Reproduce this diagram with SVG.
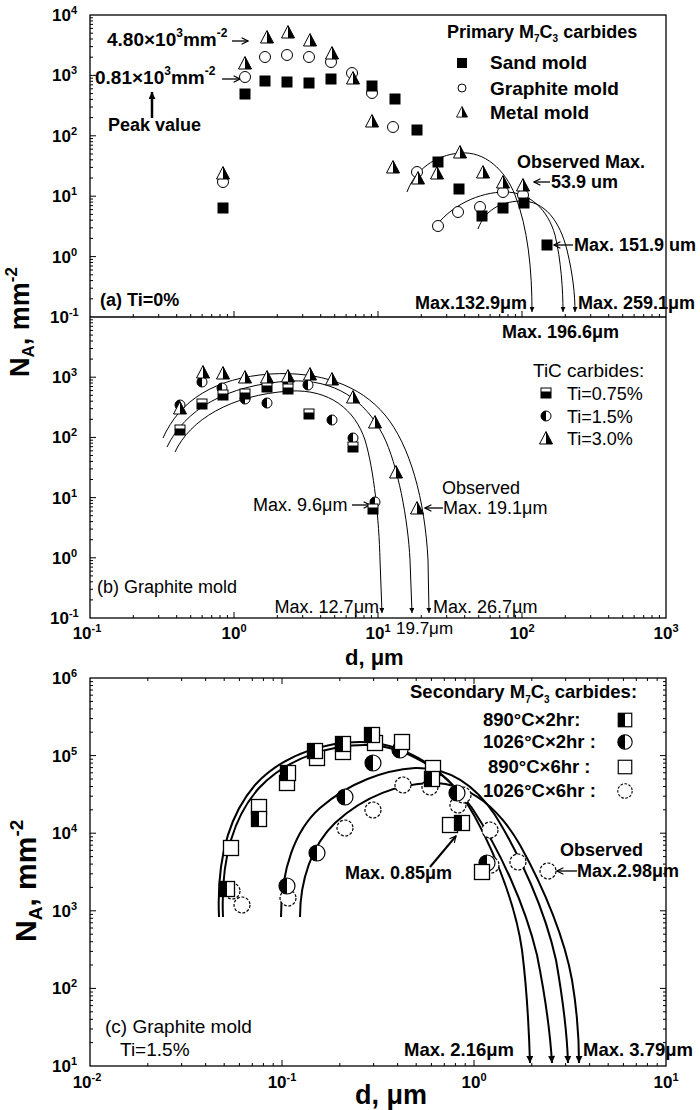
<svg xmlns="http://www.w3.org/2000/svg" width="700" height="1110" viewBox="0 0 700 1110">
<style>
text{font-family:"Liberation Sans",Arial,sans-serif;fill:#000}
.b{font-weight:bold}
.tl{font-size:17px;font-weight:bold}
.ax{stroke:#000;stroke-width:1.3;fill:none}
.tk{stroke:#000;stroke-width:1;fill:none}
.cv{stroke:#000;stroke-width:1;fill:none}
.cv2{stroke:#000;stroke-width:2;fill:none}
.ar{stroke:#000;stroke-width:1.3;fill:none}
</style>
<defs>
<marker id="ahs" viewBox="0 0 10 10" refX="10" refY="5" markerWidth="7" markerHeight="5" markerUnits="userSpaceOnUse" orient="auto"><path d="M0,0 L10,5 L0,10 Z" fill="#000"/></marker>
<marker id="ahb" viewBox="0 0 10 10" refX="10" refY="5" markerWidth="9" markerHeight="7" markerUnits="userSpaceOnUse" orient="auto"><path d="M0,0 L10,5 L0,10 Z" fill="#000"/></marker>
<marker id="aop" viewBox="0 0 10 10" refX="9" refY="5" markerWidth="8" markerHeight="8" markerUnits="userSpaceOnUse" orient="auto"><path d="M1,1 L9,5 L1,9" fill="none" stroke="#000" stroke-width="1.4"/></marker>
<g id="sqA"><rect x="-5.5" y="-5.5" width="11" height="11" fill="#000"/></g>
<g id="ciA"><circle r="5.5" fill="#fff" stroke="#000" stroke-width="1"/></g>
<g id="trA"><path d="M0,-6.5 L6.5,6 L-6.5,6 Z" fill="#fff" stroke="#000" stroke-width="1"/><path d="M0,-6.5 L6.5,6 L0,6 Z" fill="#000"/></g>
<g id="sqB"><rect x="-5" y="-5" width="10" height="10" fill="#fff" stroke="#000" stroke-width="1"/><rect x="-5" y="-1.5" width="10" height="6.5" fill="#000"/></g>
<g id="ciB"><circle r="5" fill="#fff" stroke="#000" stroke-width="1"/><path d="M0,-5 A5,5 0 0 0 0,5 Z" fill="#000"/></g>
<g id="sqC"><rect x="-7.5" y="-7.5" width="15" height="15" fill="#fff" stroke="#000" stroke-width="1.3"/><rect x="-7.5" y="-7.5" width="7.5" height="15" fill="#000"/></g>
<g id="sqCo"><rect x="-7.5" y="-7.5" width="15" height="15" fill="#fff" stroke="#000" stroke-width="1.3"/></g>
<g id="ciC"><circle r="8" fill="#fff" stroke="#000" stroke-width="1.2"/><path d="M0,-8 A8,8 0 0 0 0,8 Z" fill="#000"/></g>
<g id="ciCo"><circle r="8" fill="#fff" stroke="#000" stroke-width="1.2" stroke-dasharray="3,1.6"/></g>
</defs>
<rect width="700" height="1110" fill="#fff"/>

<g id="axes">
<rect x="90" y="15" width="576" height="603" class="ax"/>
<line x1="90" y1="317" x2="666" y2="317" class="ax"/>
<rect x="90" y="678" width="576" height="388" class="ax"/>
</g>

<g id="ticks">
<path class="tk" d="M90,75.4h6M90,135.8h6M90,196.2h6M90,256.6h6
M90,298.8h3M90,288.2h3M90,280.6h3M90,274.8h3M90,270h3M90,266h3M90,262.5h3M90,259.4h3
M90,238.4h3M90,227.8h3M90,220.2h3M90,214.4h3M90,209.6h3M90,205.6h3M90,202.1h3M90,199h3
M90,178h3M90,167.4h3M90,159.8h3M90,154h3M90,149.2h3M90,145.2h3M90,141.7h3M90,138.6h3
M90,117.6h3M90,107h3M90,99.4h3M90,93.6h3M90,88.8h3M90,84.8h3M90,81.3h3M90,78.2h3
M90,57.2h3M90,46.6h3M90,39h3M90,33.2h3M90,28.4h3M90,24.4h3M90,20.9h3M90,17.8h3"/>
<path class="tk" d="M90,377.2h6M90,437.4h6M90,497.6h6M90,557.8h6
M90,599.9h3M90,589.3h3M90,581.8h3M90,575.9h3M90,571.2h3M90,567.1h3M90,563.6h3M90,560.6h3
M90,539.7h3M90,529.1h3M90,521.6h3M90,515.7h3M90,511h3M90,506.9h3M90,503.4h3M90,500.4h3
M90,479.5h3M90,468.9h3M90,461.4h3M90,455.5h3M90,450.8h3M90,446.7h3M90,443.2h3M90,440.2h3
M90,419.3h3M90,408.7h3M90,401.2h3M90,395.3h3M90,390.6h3M90,386.5h3M90,383h3M90,380h3
M90,359.1h3M90,348.5h3M90,341h3M90,335.1h3M90,330.4h3M90,326.3h3M90,322.8h3M90,319.8h3"/>
<path class="tk" d="M234,317v-6M378,317v-6M522,317v-6
M133.3,317v-3M158.7,317v-3M176.7,317v-3M190.7,317v-3M202.1,317v-3M211.7,317v-3M220,317v-3M227.4,317v-3
M277.3,317v-3M302.7,317v-3M320.7,317v-3M334.7,317v-3M346.1,317v-3M355.7,317v-3M364,317v-3M371.4,317v-3
M421.3,317v-3M446.7,317v-3M464.7,317v-3M478.7,317v-3M490.1,317v-3M499.7,317v-3M508,317v-3M515.4,317v-3
M565.3,317v-3M590.7,317v-3M608.7,317v-3M622.7,317v-3M634.1,317v-3M643.7,317v-3M652,317v-3M659.4,317v-3"/>
<path class="tk" d="M234,618v-6M378,618v-6M522,618v-6
M133.3,618v-3M158.7,618v-3M176.7,618v-3M190.7,618v-3M202.1,618v-3M211.7,618v-3M220,618v-3M227.4,618v-3
M277.3,618v-3M302.7,618v-3M320.7,618v-3M334.7,618v-3M346.1,618v-3M355.7,618v-3M364,618v-3M371.4,618v-3
M421.3,618v-3M446.7,618v-3M464.7,618v-3M478.7,618v-3M490.1,618v-3M499.7,618v-3M508,618v-3M515.4,618v-3
M565.3,618v-3M590.7,618v-3M608.7,618v-3M622.7,618v-3M634.1,618v-3M643.7,618v-3M652,618v-3M659.4,618v-3"/>
<path class="tk" d="M282,1066v-6M474,1066v-6M282,678v6M474,678v6
M147.8,1066v-3M181.6,1066v-3M205.6,1066v-3M224.2,1066v-3M239.4,1066v-3M252.3,1066v-3M263.4,1066v-3M273.2,1066v-3
M339.8,1066v-3M373.6,1066v-3M397.6,1066v-3M416.2,1066v-3M431.4,1066v-3M444.3,1066v-3M455.4,1066v-3M465.2,1066v-3
M531.8,1066v-3M565.6,1066v-3M589.6,1066v-3M608.2,1066v-3M623.4,1066v-3M636.3,1066v-3M647.4,1066v-3M657.2,1066v-3
M147.8,678v3M181.6,678v3M205.6,678v3M224.2,678v3M239.4,678v3M252.3,678v3M263.4,678v3M273.2,678v3
M339.8,678v3M373.6,678v3M397.6,678v3M416.2,678v3M431.4,678v3M444.3,678v3M455.4,678v3M465.2,678v3
M531.8,678v3M565.6,678v3M589.6,678v3M608.2,678v3M623.4,678v3M636.3,678v3M647.4,678v3M657.2,678v3"/>
<path class="tk" d="M90,988.4h6M90,910.8h6M90,833.2h6M90,755.6h6M666,988.4h-6M666,910.8h-6M666,833.2h-6M666,755.6h-6
M90,1042.6h3M90,1029h3M90,1019.3h3M90,1011.8h3M90,1005.6h3M90,1000.4h3M90,995.9h3M90,992h3
M90,965h3M90,951.4h3M90,941.7h3M90,934.2h3M90,928h3M90,922.8h3M90,918.3h3M90,914.4h3
M90,887.4h3M90,873.8h3M90,864.1h3M90,856.6h3M90,850.4h3M90,845.2h3M90,840.7h3M90,836.8h3
M90,809.8h3M90,796.2h3M90,786.5h3M90,779h3M90,772.8h3M90,767.6h3M90,763.1h3M90,759.2h3
M90,732.2h3M90,718.6h3M90,708.9h3M90,701.4h3M90,695.2h3M90,690h3M90,685.5h3M90,681.6h3
M666,1042.6h-3M666,1029h-3M666,1019.3h-3M666,1011.8h-3M666,1005.6h-3M666,1000.4h-3M666,995.9h-3M666,992h-3
M666,965h-3M666,951.4h-3M666,941.7h-3M666,934.2h-3M666,928h-3M666,922.8h-3M666,918.3h-3M666,914.4h-3
M666,887.4h-3M666,873.8h-3M666,864.1h-3M666,856.6h-3M666,850.4h-3M666,845.2h-3M666,840.7h-3M666,836.8h-3
M666,809.8h-3M666,796.2h-3M666,786.5h-3M666,779h-3M666,772.8h-3M666,767.6h-3M666,763.1h-3M666,759.2h-3
M666,732.2h-3M666,718.6h-3M666,708.9h-3M666,701.4h-3M666,695.2h-3M666,690h-3M666,685.5h-3M666,681.6h-3"/>
</g>

<g id="tick-labels" class="tl">
<text x="52" y="21">10<tspan dy="-7" font-size="11">4</tspan></text>
<text x="52" y="81">10<tspan dy="-7" font-size="11">3</tspan></text>
<text x="52" y="142">10<tspan dy="-7" font-size="11">2</tspan></text>
<text x="52" y="202">10<tspan dy="-7" font-size="11">1</tspan></text>
<text x="52" y="263">10<tspan dy="-7" font-size="11">0</tspan></text>
<text x="50" y="323">10<tspan dy="-7" font-size="11">-1</tspan></text>
<text x="52" y="383">10<tspan dy="-7" font-size="11">3</tspan></text>
<text x="52" y="443">10<tspan dy="-7" font-size="11">2</tspan></text>
<text x="52" y="504">10<tspan dy="-7" font-size="11">1</tspan></text>
<text x="52" y="564">10<tspan dy="-7" font-size="11">0</tspan></text>
<text x="50" y="624">10<tspan dy="-7" font-size="11">-1</tspan></text>
<text x="87" y="639" text-anchor="middle">10<tspan dy="-7" font-size="11">-1</tspan></text>
<text x="234" y="639" text-anchor="middle">10<tspan dy="-7" font-size="11">0</tspan></text>
<text x="378" y="639" text-anchor="middle">10<tspan dy="-7" font-size="11">1</tspan></text>
<text x="522" y="639" text-anchor="middle">10<tspan dy="-7" font-size="11">2</tspan></text>
<text x="666" y="639" text-anchor="middle">10<tspan dy="-7" font-size="11">3</tspan></text>
<text x="52" y="684">10<tspan dy="-7" font-size="11">6</tspan></text>
<text x="52" y="762">10<tspan dy="-7" font-size="11">5</tspan></text>
<text x="52" y="839">10<tspan dy="-7" font-size="11">4</tspan></text>
<text x="52" y="917">10<tspan dy="-7" font-size="11">3</tspan></text>
<text x="52" y="994">10<tspan dy="-7" font-size="11">2</tspan></text>
<text x="52" y="1072">10<tspan dy="-7" font-size="11">1</tspan></text>
<text x="87" y="1088" text-anchor="middle">10<tspan dy="-7" font-size="11">-2</tspan></text>
<text x="282" y="1088" text-anchor="middle">10<tspan dy="-7" font-size="11">-1</tspan></text>
<text x="474" y="1088" text-anchor="middle">10<tspan dy="-7" font-size="11">0</tspan></text>
<text x="666" y="1088" text-anchor="middle">10<tspan dy="-7" font-size="11">1</tspan></text>
</g>

<g id="axis-titles" class="b">
<text transform="translate(29,377) rotate(-90)" font-size="27">N<tspan font-size="17" dy="5">A</tspan><tspan dy="-5">, mm</tspan><tspan font-size="17" dy="-12">-2</tspan></text>
<text x="345" y="665" font-size="22">d, μm</text>
<text transform="translate(36,942) rotate(-90)" font-size="30">N<tspan font-size="19" dy="6">A</tspan><tspan dy="-6">, mm</tspan><tspan font-size="19" dy="-13">-2</tspan></text>
<text x="355" y="1104" font-size="27">d, μm</text>
</g>

<g id="connectors">
<path class="cv" d="M407,192 C415,170 435,155 460,153 C485,151 505,170 515,195 C528,228 532,270 532,312" marker-end="url(#ahs)"/>
<path class="cv" d="M433,230 C450,205 480,192 505,192 C530,192 548,210 555,235 C561,260 563,290 563,312" marker-end="url(#ahs)"/>
<path class="cv" d="M478,229 C485,210 500,202 520,201 C545,200 560,222 567,250 C573,275 575,295 575,312" marker-end="url(#ahs)"/>
<path class="cv" d="M163,438 C180,400 215,378 270,374 C320,371 360,385 385,415 C410,445 425,500 428,560 L429,613" marker-end="url(#ahs)"/>
<path class="cv" d="M167,447 C185,410 225,385 290,381 C335,379 365,400 383,435 C398,465 408,520 410,560 L412,613" marker-end="url(#ahs)"/>
<path class="cv" d="M175,452 C190,420 230,395 290,391 C330,389 355,410 365,440 C374,470 379,520 380,560 L382,613" marker-end="url(#ahs)"/>
<path class="cv2" d="M219,917 C217,870 225,820 255,785 C285,752 330,742 360,742 C400,742 440,765 465,800 C490,840 515,900 522,950 C527,990 529,1030 530,1063" marker-end="url(#ahb)"/>
<path class="cv2" d="M223,917 C221,870 229,822 259,788 C290,755 335,745 365,745 C405,745 445,770 472,808 C500,850 525,905 537,955 C545,995 550,1030 552,1063" marker-end="url(#ahb)"/>
<path class="cv2" d="M281,917 C281,870 295,830 320,808 C350,782 385,770 415,768 C450,767 475,785 495,815 C520,855 545,910 556,960 C563,1000 567,1030 568,1063" marker-end="url(#ahb)"/>
<path class="cv2" d="M300,917 C300,880 312,845 335,823 C365,795 400,784 430,783 C470,782 500,810 520,845 C545,890 565,940 572,980 C577,1010 579,1040 579,1063" marker-end="url(#ahb)"/>
<line class="ar" x1="232" y1="41" x2="248" y2="41" marker-end="url(#aop)"/>
<line class="ar" x1="222" y1="79" x2="240" y2="79" marker-end="url(#aop)"/>
<line x1="152" y1="118" x2="152" y2="92" stroke="#000" stroke-width="2.5" marker-end="url(#ahb)"/>
<line class="ar" x1="550" y1="182" x2="534" y2="182" marker-end="url(#aop)"/>
<line class="ar" x1="573" y1="245" x2="554" y2="245" marker-end="url(#aop)"/>
<line class="ar" x1="352" y1="505" x2="370" y2="505" marker-end="url(#aop)"/>
<line class="ar" x1="443" y1="508" x2="425" y2="508" marker-end="url(#aop)"/>
<line class="ar" x1="577" y1="871" x2="557" y2="871" marker-end="url(#aop)"/>
<line x1="430" y1="867" x2="456" y2="836" stroke="#000" stroke-width="2" marker-end="url(#aop)"/>
</g>

<g id="panel-a-points">
<use href="#ciA" x="223" y="182"/><use href="#ciA" x="245" y="77"/><use href="#ciA" x="265" y="57"/><use href="#ciA" x="287" y="55"/><use href="#ciA" x="309" y="57"/><use href="#ciA" x="331" y="62"/><use href="#ciA" x="352" y="73"/><use href="#ciA" x="372" y="93"/><use href="#ciA" x="393" y="127"/><use href="#ciA" x="417" y="172"/><use href="#ciA" x="438" y="226"/><use href="#ciA" x="458" y="212"/><use href="#ciA" x="480" y="207"/><use href="#ciA" x="503" y="192"/><use href="#ciA" x="523" y="195"/>
<use href="#sqA" x="223" y="208"/><use href="#sqA" x="245" y="94"/><use href="#sqA" x="265" y="81"/><use href="#sqA" x="287" y="82"/><use href="#sqA" x="309" y="83"/><use href="#sqA" x="331" y="79"/><use href="#sqA" x="372" y="86"/><use href="#sqA" x="395" y="99"/><use href="#sqA" x="417" y="130"/><use href="#sqA" x="438" y="162"/><use href="#sqA" x="459" y="189"/><use href="#sqA" x="482" y="216"/><use href="#sqA" x="503" y="208"/><use href="#sqA" x="524" y="203"/><use href="#sqA" x="547" y="245"/>
<use href="#trA" x="223" y="173"/><use href="#trA" x="245" y="63"/><use href="#trA" x="267" y="37"/><use href="#trA" x="288" y="32"/><use href="#trA" x="310" y="40"/><use href="#trA" x="332" y="53"/><use href="#trA" x="353" y="78"/><use href="#trA" x="372" y="121"/><use href="#trA" x="393" y="167"/><use href="#trA" x="418" y="178"/><use href="#trA" x="437" y="173"/><use href="#trA" x="460" y="152"/><use href="#trA" x="483" y="172"/><use href="#trA" x="503" y="182"/><use href="#trA" x="523" y="185"/>
</g>

<g id="panel-b-points">
<use href="#ciB" x="180" y="405"/><use href="#ciB" x="202" y="382"/><use href="#ciB" x="222" y="388"/><use href="#ciB" x="245" y="399"/><use href="#ciB" x="267" y="403"/><use href="#ciB" x="288" y="383"/><use href="#ciB" x="308" y="385"/><use href="#ciB" x="332" y="420"/><use href="#ciB" x="353" y="438"/><use href="#ciB" x="375" y="502"/>
<use href="#sqB" x="180" y="430"/><use href="#sqB" x="202" y="404"/><use href="#sqB" x="223" y="395"/><use href="#sqB" x="245" y="394"/><use href="#sqB" x="267" y="387"/><use href="#sqB" x="288" y="389"/><use href="#sqB" x="309" y="414"/><use href="#sqB" x="353" y="447"/><use href="#sqB" x="373" y="509"/>
<use href="#trA" x="180" y="408"/><use href="#trA" x="203" y="372"/><use href="#trA" x="223" y="373"/><use href="#trA" x="245" y="377"/><use href="#trA" x="267" y="377"/><use href="#trA" x="288" y="376"/><use href="#trA" x="310" y="374"/><use href="#trA" x="332" y="379"/><use href="#trA" x="353" y="397"/><use href="#trA" x="375" y="422"/><use href="#trA" x="396" y="472"/><use href="#trA" x="417" y="508"/>
</g>

<g id="panel-c-points">
<use href="#ciCo" x="232" y="891"/><use href="#ciCo" x="242" y="905"/><use href="#ciCo" x="288" y="898"/><use href="#ciCo" x="345" y="828"/><use href="#ciCo" x="373" y="810"/><use href="#ciCo" x="403" y="785"/><use href="#ciCo" x="430" y="787"/><use href="#ciCo" x="458" y="805"/><use href="#ciCo" x="463" y="795"/><use href="#ciCo" x="490" y="830"/><use href="#ciCo" x="491" y="865"/><use href="#ciCo" x="518" y="862"/><use href="#ciCo" x="548" y="871"/>
<use href="#ciC" x="287" y="886"/><use href="#ciC" x="317" y="853"/><use href="#ciC" x="345" y="797"/><use href="#ciC" x="373" y="763"/><use href="#ciC" x="400" y="750"/><use href="#ciC" x="457" y="793"/><use href="#ciC" x="487" y="863"/>
<use href="#sqCo" x="231" y="848"/><use href="#sqCo" x="259" y="807"/><use href="#sqCo" x="287" y="783"/><use href="#sqCo" x="317" y="758"/><use href="#sqCo" x="343" y="752"/><use href="#sqCo" x="375" y="743"/><use href="#sqCo" x="402" y="742"/><use href="#sqCo" x="433" y="768"/><use href="#sqCo" x="450" y="825"/><use href="#sqCo" x="482" y="872"/>
<use href="#sqC" x="227" y="889"/><use href="#sqC" x="259" y="819"/><use href="#sqC" x="288" y="773"/><use href="#sqC" x="315" y="751"/><use href="#sqC" x="343" y="744"/><use href="#sqC" x="372" y="735"/><use href="#sqC" x="432" y="779"/><use href="#sqC" x="462" y="823"/>
</g>

<g id="legend-a">
<text x="447" y="38" class="b" font-size="18">Primary M<tspan font-size="10" dy="4">7</tspan><tspan dy="-4">C</tspan><tspan font-size="10" dy="4">3</tspan><tspan dy="-4"> carbides</tspan></text>
<rect x="457" y="58" width="10" height="10" fill="#000"/>
<circle cx="462" cy="88" r="4" fill="#fff" stroke="#000"/>
<g transform="translate(462,112) scale(0.85)"><use href="#trA"/></g>
<text x="490" y="69" class="b" font-size="19">Sand mold</text>
<text x="490" y="95" class="b" font-size="19">Graphite mold</text>
<text x="490" y="119" class="b" font-size="19">Metal mold</text>
</g>

<g id="legend-b">
<text x="533" y="377" font-size="19">TiC carbides:</text>
<use href="#sqB" x="546" y="393"/>
<use href="#ciB" x="546" y="416"/>
<use href="#trA" x="546" y="438"/>
<text x="567" y="400" font-size="18">Ti=0.75%</text>
<text x="567" y="423" font-size="18">Ti=1.5%</text>
<text x="567" y="445" font-size="18">Ti=3.0%</text>
</g>

<g id="legend-c">
<text x="410" y="698" class="b" font-size="18.5">Secondary M<tspan font-size="10" dy="5">7</tspan><tspan dy="-5">C</tspan><tspan font-size="10" dy="5">3</tspan><tspan dy="-5"> carbides:</tspan></text>
<text x="483" y="726" class="b" font-size="18.5">890°C×2hr:</text>
<text x="483" y="748" class="b" font-size="18.5">1026°C×2hr :</text>
<text x="488" y="773" class="b" font-size="18.5">890°C×6hr :</text>
<text x="483" y="797" class="b" font-size="18.5">1026°C×6hr :</text>
<g transform="translate(625,720) scale(0.9)"><use href="#sqC"/></g>
<g transform="translate(625,742) scale(0.9)"><use href="#ciC"/></g>
<g transform="translate(625,767) scale(0.9)"><use href="#sqCo"/></g>
<g transform="translate(625,791) scale(0.9)"><use href="#ciCo"/></g>
</g>

<g id="annotations-a" class="b">
<text x="107" y="46" font-size="19">4.80×10<tspan font-size="12" dy="-9">3</tspan><tspan dy="9">mm</tspan><tspan font-size="12" dy="-9">-2</tspan></text>
<text x="95" y="84" font-size="19">0.81×10<tspan font-size="12" dy="-9">3</tspan><tspan dy="9">mm</tspan><tspan font-size="12" dy="-9">-2</tspan></text>
<text x="108" y="131" font-size="18">Peak value</text>
<text x="517" y="168" font-size="18">Observed Max.</text>
<text x="551" y="188" font-size="18">53.9 um</text>
<text x="574" y="251" font-size="18">Max. 151.9 um</text>
<text x="100" y="306" font-size="18">(a) Ti=0%</text>
<text x="527" y="309" font-size="18" text-anchor="end">Max.132.9μm</text>
<text x="578" y="309" font-size="18">Max. 259.1μm</text>
<text x="502" y="338" font-size="18">Max. 196.6μm</text>
</g>

<g id="annotations-b" font-size="18">
<text x="253" y="511">Max. 9.6μm</text>
<text x="442" y="494">Observed</text>
<text x="443" y="514">Max. 19.1μm</text>
<text x="97" y="593">(b) Graphite mold</text>
<text x="379" y="613" text-anchor="end">Max. 12.7μm</text>
<text x="433" y="613">Max. 26.7μm</text>
<text x="396" y="634" font-size="17">19.7μm</text>
</g>

<g id="annotations-c">
<text x="345" y="879" class="b" font-size="18">Max. 0.85μm</text>
<text x="560" y="856" class="b" font-size="18">Observed</text>
<text x="577" y="877" class="b" font-size="18">Max.2.98μm</text>
<text x="404" y="1056" class="b" font-size="18.5">Max. 2.16μm</text>
<text x="583" y="1056" class="b" font-size="18.5">Max. 3.79μm</text>
<text x="105" y="1033" font-size="19">(c) Graphite mold</text>
<text x="120" y="1056" font-size="19">Ti=1.5%</text>
</g>
</svg>
